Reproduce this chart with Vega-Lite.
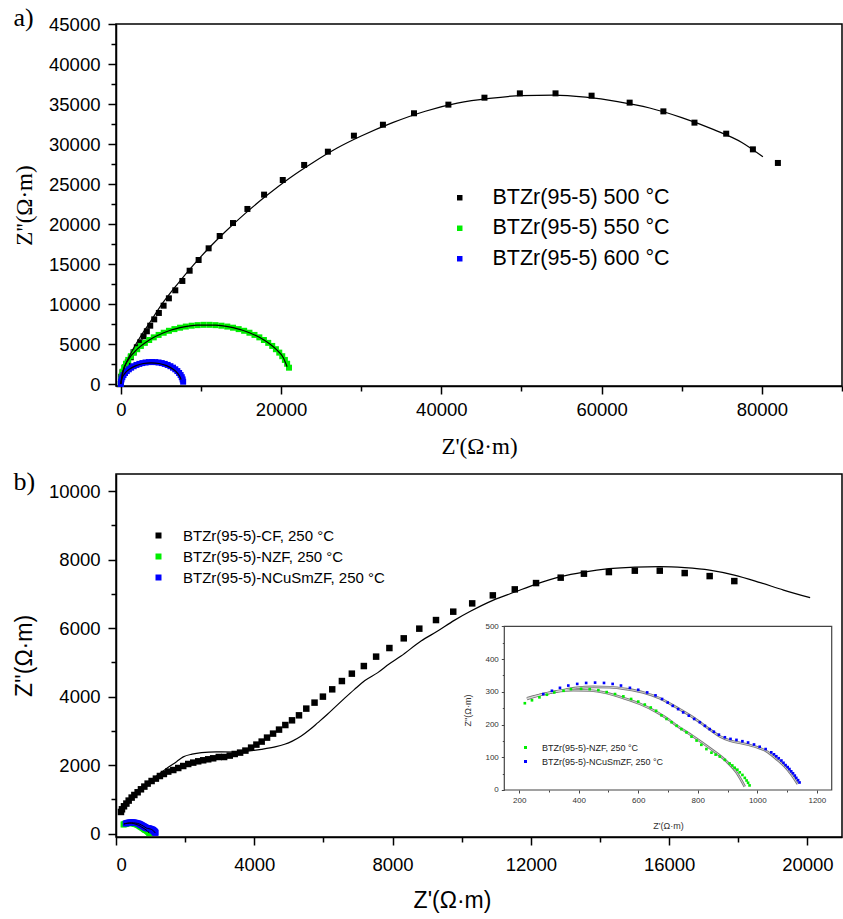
{
  "$schema": "https://vega.github.io/schema/vega-lite/v6.json",
  "background": "white",
  "padding": {"left": 12, "top": 4, "right": 0, "bottom": 0},
  "spacing": 8,
  "config": {
    "view": {"stroke": "#000", "strokeWidth": 1.5},
    "axis": {"grid": false, "domainColor": "#000", "domainWidth": 1.5, "tickColor": "#000", "tickWidth": 1.5, "labelFont": "Liberation Sans", "labelColor": "#000", "titleColor": "#000", "titleFontWeight": "normal", "labelFontSize": 18.5, "titleFont": "Liberation Sans"},
    "legend": {"labelFont": "Liberation Sans", "labelColor": "#000", "padding": 0, "symbolStrokeWidth": 0, "labelLimit": 600},
    "title": {"color": "#000"}
  },
  "datasets": {
    "a": [
      {"s": "BTZr(95-5) 500 °C", "x": 50, "y": 880}, {"s": "BTZr(95-5) 500 °C", "x": 210, "y": 1460}, {"s": "BTZr(95-5) 500 °C", "x": 550, "y": 2090}, {"s": "BTZr(95-5) 500 °C", "x": 870, "y": 2710}, {"s": "BTZr(95-5) 500 °C", "x": 1250, "y": 3340}, {"s": "BTZr(95-5) 500 °C", "x": 1590, "y": 3960}, {"s": "BTZr(95-5) 500 °C", "x": 2000, "y": 4590}, {"s": "BTZr(95-5) 500 °C", "x": 2420, "y": 5210}, {"s": "BTZr(95-5) 500 °C", "x": 2840, "y": 5960}, {"s": "BTZr(95-5) 500 °C", "x": 3250, "y": 6590}, {"s": "BTZr(95-5) 500 °C", "x": 3670, "y": 7290}, {"s": "BTZr(95-5) 500 °C", "x": 4170, "y": 8080}, {"s": "BTZr(95-5) 500 °C", "x": 4750, "y": 8880}, {"s": "BTZr(95-5) 500 °C", "x": 5340, "y": 9790}, {"s": "BTZr(95-5) 500 °C", "x": 6000, "y": 10710}, {"s": "BTZr(95-5) 500 °C", "x": 6800, "y": 11710}, {"s": "BTZr(95-5) 500 °C", "x": 7680, "y": 12880}, {"s": "BTZr(95-5) 500 °C", "x": 8590, "y": 14160}, {"s": "BTZr(95-5) 500 °C", "x": 9710, "y": 15500}, {"s": "BTZr(95-5) 500 °C", "x": 10960, "y": 16960}, {"s": "BTZr(95-5) 500 °C", "x": 12340, "y": 18500}, {"s": "BTZr(95-5) 500 °C", "x": 14000, "y": 20120}, {"s": "BTZr(95-5) 500 °C", "x": 15800, "y": 21880}, {"s": "BTZr(95-5) 500 °C", "x": 17880, "y": 23670}, {"s": "BTZr(95-5) 500 °C", "x": 20210, "y": 25500}, {"s": "BTZr(95-5) 500 °C", "x": 22880, "y": 27380}, {"s": "BTZr(95-5) 500 °C", "x": 25840, "y": 29040}, {"s": "BTZr(95-5) 500 °C", "x": 29090, "y": 31040}, {"s": "BTZr(95-5) 500 °C", "x": 32710, "y": 32410}, {"s": "BTZr(95-5) 500 °C", "x": 36590, "y": 33840}, {"s": "BTZr(95-5) 500 °C", "x": 40880, "y": 34920}, {"s": "BTZr(95-5) 500 °C", "x": 45380, "y": 35790}, {"s": "BTZr(95-5) 500 °C", "x": 49800, "y": 36330}, {"s": "BTZr(95-5) 500 °C", "x": 54250, "y": 36330}, {"s": "BTZr(95-5) 500 °C", "x": 58750, "y": 36040}, {"s": "BTZr(95-5) 500 °C", "x": 63500, "y": 35170}, {"s": "BTZr(95-5) 500 °C", "x": 67710, "y": 34080}, {"s": "BTZr(95-5) 500 °C", "x": 71590, "y": 32670}, {"s": "BTZr(95-5) 500 °C", "x": 75550, "y": 31290}, {"s": "BTZr(95-5) 500 °C", "x": 78880, "y": 29330}, {"s": "BTZr(95-5) 500 °C", "x": 82000, "y": 27630},
      {"s": "BTZr(95-5) 550 °C", "x": 0, "y": 0}, {"s": "BTZr(95-5) 550 °C", "x": 26, "y": 516}, {"s": "BTZr(95-5) 550 °C", "x": 104, "y": 1030}, {"s": "BTZr(95-5) 550 °C", "x": 234, "y": 1539}, {"s": "BTZr(95-5) 550 °C", "x": 414, "y": 2040}, {"s": "BTZr(95-5) 550 °C", "x": 645, "y": 2531}, {"s": "BTZr(95-5) 550 °C", "x": 926, "y": 3010}, {"s": "BTZr(95-5) 550 °C", "x": 1253, "y": 3474}, {"s": "BTZr(95-5) 550 °C", "x": 1626, "y": 3921}, {"s": "BTZr(95-5) 550 °C", "x": 2044, "y": 4350}, {"s": "BTZr(95-5) 550 °C", "x": 2504, "y": 4757}, {"s": "BTZr(95-5) 550 °C", "x": 3003, "y": 5141}, {"s": "BTZr(95-5) 550 °C", "x": 3541, "y": 5499}, {"s": "BTZr(95-5) 550 °C", "x": 4112, "y": 5831}, {"s": "BTZr(95-5) 550 °C", "x": 4717, "y": 6135}, {"s": "BTZr(95-5) 550 °C", "x": 5350, "y": 6408}, {"s": "BTZr(95-5) 550 °C", "x": 6009, "y": 6651}, {"s": "BTZr(95-5) 550 °C", "x": 6692, "y": 6861}, {"s": "BTZr(95-5) 550 °C", "x": 7394, "y": 7038}, {"s": "BTZr(95-5) 550 °C", "x": 8112, "y": 7180}, {"s": "BTZr(95-5) 550 °C", "x": 8842, "y": 7288}, {"s": "BTZr(95-5) 550 °C", "x": 9582, "y": 7359}, {"s": "BTZr(95-5) 550 °C", "x": 10327, "y": 7396}, {"s": "BTZr(95-5) 550 °C", "x": 11073, "y": 7396}, {"s": "BTZr(95-5) 550 °C", "x": 11818, "y": 7359}, {"s": "BTZr(95-5) 550 °C", "x": 12558, "y": 7288}, {"s": "BTZr(95-5) 550 °C", "x": 13288, "y": 7180}, {"s": "BTZr(95-5) 550 °C", "x": 14006, "y": 7038}, {"s": "BTZr(95-5) 550 °C", "x": 14708, "y": 6861}, {"s": "BTZr(95-5) 550 °C", "x": 15391, "y": 6651}, {"s": "BTZr(95-5) 550 °C", "x": 16050, "y": 6408}, {"s": "BTZr(95-5) 550 °C", "x": 16683, "y": 6135}, {"s": "BTZr(95-5) 550 °C", "x": 17288, "y": 5831}, {"s": "BTZr(95-5) 550 °C", "x": 17859, "y": 5499}, {"s": "BTZr(95-5) 550 °C", "x": 18397, "y": 5141}, {"s": "BTZr(95-5) 550 °C", "x": 18896, "y": 4757}, {"s": "BTZr(95-5) 550 °C", "x": 19356, "y": 4350}, {"s": "BTZr(95-5) 550 °C", "x": 19774, "y": 3921}, {"s": "BTZr(95-5) 550 °C", "x": 20147, "y": 3474}, {"s": "BTZr(95-5) 550 °C", "x": 20474, "y": 3010}, {"s": "BTZr(95-5) 550 °C", "x": 20755, "y": 2531}, {"s": "BTZr(95-5) 550 °C", "x": 20986, "y": 2040},
      {"s": "BTZr(95-5) 600 °C", "x": 0, "y": 0}, {"s": "BTZr(95-5) 600 °C", "x": 21, "y": 287}, {"s": "BTZr(95-5) 600 °C", "x": 85, "y": 572}, {"s": "BTZr(95-5) 600 °C", "x": 191, "y": 850}, {"s": "BTZr(95-5) 600 °C", "x": 337, "y": 1118}, {"s": "BTZr(95-5) 600 °C", "x": 523, "y": 1375}, {"s": "BTZr(95-5) 600 °C", "x": 745, "y": 1616}, {"s": "BTZr(95-5) 600 °C", "x": 1002, "y": 1840}, {"s": "BTZr(95-5) 600 °C", "x": 1290, "y": 2044}, {"s": "BTZr(95-5) 600 °C", "x": 1608, "y": 2225}, {"s": "BTZr(95-5) 600 °C", "x": 1950, "y": 2382}, {"s": "BTZr(95-5) 600 °C", "x": 2314, "y": 2512}, {"s": "BTZr(95-5) 600 °C", "x": 2695, "y": 2616}, {"s": "BTZr(95-5) 600 °C", "x": 3089, "y": 2690}, {"s": "BTZr(95-5) 600 °C", "x": 3492, "y": 2735}, {"s": "BTZr(95-5) 600 °C", "x": 3900, "y": 2750}, {"s": "BTZr(95-5) 600 °C", "x": 4308, "y": 2735}, {"s": "BTZr(95-5) 600 °C", "x": 4711, "y": 2690}, {"s": "BTZr(95-5) 600 °C", "x": 5105, "y": 2616}, {"s": "BTZr(95-5) 600 °C", "x": 5486, "y": 2512}, {"s": "BTZr(95-5) 600 °C", "x": 5850, "y": 2382}, {"s": "BTZr(95-5) 600 °C", "x": 6192, "y": 2225}, {"s": "BTZr(95-5) 600 °C", "x": 6510, "y": 2044}, {"s": "BTZr(95-5) 600 °C", "x": 6798, "y": 1840}, {"s": "BTZr(95-5) 600 °C", "x": 7055, "y": 1616}, {"s": "BTZr(95-5) 600 °C", "x": 7277, "y": 1375}, {"s": "BTZr(95-5) 600 °C", "x": 7463, "y": 1118}, {"s": "BTZr(95-5) 600 °C", "x": 7609, "y": 850}, {"s": "BTZr(95-5) 600 °C", "x": 7715, "y": 572}, {"s": "BTZr(95-5) 600 °C", "x": 7779, "y": 287}
    ],
    "fitA": [
      {"s": "500", "x": 0, "y": 0}, {"s": "500", "x": 300, "y": 1600}, {"s": "500", "x": 800, "y": 2900}, {"s": "500", "x": 1500, "y": 4300}, {"s": "500", "x": 2500, "y": 6000}, {"s": "500", "x": 3500, "y": 7500}, {"s": "500", "x": 5000, "y": 9800}, {"s": "500", "x": 7000, "y": 12400}, {"s": "500", "x": 9000, "y": 14800}, {"s": "500", "x": 11000, "y": 17000}, {"s": "500", "x": 13000, "y": 19000}, {"s": "500", "x": 15500, "y": 21300}, {"s": "500", "x": 18000, "y": 23400}, {"s": "500", "x": 21000, "y": 25700}, {"s": "500", "x": 24000, "y": 27700}, {"s": "500", "x": 27000, "y": 29500}, {"s": "500", "x": 30000, "y": 31000}, {"s": "500", "x": 34000, "y": 32700}, {"s": "500", "x": 38000, "y": 34100}, {"s": "500", "x": 42000, "y": 35100}, {"s": "500", "x": 46000, "y": 35700}, {"s": "500", "x": 50000, "y": 36050}, {"s": "500", "x": 54000, "y": 36100}, {"s": "500", "x": 58000, "y": 35850}, {"s": "500", "x": 62000, "y": 35300}, {"s": "500", "x": 66000, "y": 34500}, {"s": "500", "x": 70000, "y": 33300}, {"s": "500", "x": 74000, "y": 31800}, {"s": "500", "x": 77500, "y": 30200}, {"s": "500", "x": 80130, "y": 28400},
      {"s": "550", "x": 0, "y": 0}, {"s": "550", "x": 234, "y": 1539}, {"s": "550", "x": 926, "y": 3010}, {"s": "550", "x": 2044, "y": 4350}, {"s": "550", "x": 3541, "y": 5499}, {"s": "550", "x": 5350, "y": 6408}, {"s": "550", "x": 7394, "y": 7038}, {"s": "550", "x": 9582, "y": 7359}, {"s": "550", "x": 11818, "y": 7359}, {"s": "550", "x": 14006, "y": 7038}, {"s": "550", "x": 16050, "y": 6408}, {"s": "550", "x": 17859, "y": 5499}, {"s": "550", "x": 19356, "y": 4350}, {"s": "550", "x": 20300, "y": 3250}, {"s": "550", "x": 20750, "y": 2150},
      {"s": "600", "x": 0, "y": 0}, {"s": "600", "x": 130, "y": 686}, {"s": "600", "x": 509, "y": 1325}, {"s": "600", "x": 1113, "y": 1874}, {"s": "600", "x": 1900, "y": 2295}, {"s": "600", "x": 2817, "y": 2560}, {"s": "600", "x": 3800, "y": 2650}, {"s": "600", "x": 4783, "y": 2560}, {"s": "600", "x": 5700, "y": 2295}, {"s": "600", "x": 6487, "y": 1874}, {"s": "600", "x": 7091, "y": 1325}, {"s": "600", "x": 7470, "y": 686}, {"s": "600", "x": 7517, "y": 551}
    ],
    "bCF": [
      {"s": "BTZr(95-5)-CF, 250 °C", "x": 144, "y": 631}, {"s": "BTZr(95-5)-CF, 250 °C", "x": 173, "y": 709}, {"s": "BTZr(95-5)-CF, 250 °C", "x": 231, "y": 797}, {"s": "BTZr(95-5)-CF, 250 °C", "x": 300, "y": 876}, {"s": "BTZr(95-5)-CF, 250 °C", "x": 367, "y": 963}, {"s": "BTZr(95-5)-CF, 250 °C", "x": 453, "y": 1051}, {"s": "BTZr(95-5)-CF, 250 °C", "x": 531, "y": 1127}, {"s": "BTZr(95-5)-CF, 250 °C", "x": 626, "y": 1206}, {"s": "BTZr(95-5)-CF, 250 °C", "x": 722, "y": 1293}, {"s": "BTZr(95-5)-CF, 250 °C", "x": 820, "y": 1372}, {"s": "BTZr(95-5)-CF, 250 °C", "x": 915, "y": 1459}, {"s": "BTZr(95-5)-CF, 250 °C", "x": 1030, "y": 1535}, {"s": "BTZr(95-5)-CF, 250 °C", "x": 1154, "y": 1605}, {"s": "BTZr(95-5)-CF, 250 °C", "x": 1270, "y": 1681}, {"s": "BTZr(95-5)-CF, 250 °C", "x": 1385, "y": 1740}, {"s": "BTZr(95-5)-CF, 250 °C", "x": 1512, "y": 1810}, {"s": "BTZr(95-5)-CF, 250 °C", "x": 1657, "y": 1856}, {"s": "BTZr(95-5)-CF, 250 °C", "x": 1801, "y": 1915}, {"s": "BTZr(95-5)-CF, 250 °C", "x": 1945, "y": 1973}, {"s": "BTZr(95-5)-CF, 250 °C", "x": 2089, "y": 2032}, {"s": "BTZr(95-5)-CF, 250 °C", "x": 2234, "y": 2072}, {"s": "BTZr(95-5)-CF, 250 °C", "x": 2378, "y": 2110}, {"s": "BTZr(95-5)-CF, 250 °C", "x": 2522, "y": 2140}, {"s": "BTZr(95-5)-CF, 250 °C", "x": 2667, "y": 2169}, {"s": "BTZr(95-5)-CF, 250 °C", "x": 2811, "y": 2198}, {"s": "BTZr(95-5)-CF, 250 °C", "x": 2973, "y": 2236}, {"s": "BTZr(95-5)-CF, 250 °C", "x": 3128, "y": 2236}, {"s": "BTZr(95-5)-CF, 250 °C", "x": 3290, "y": 2277}, {"s": "BTZr(95-5)-CF, 250 °C", "x": 3434, "y": 2324}, {"s": "BTZr(95-5)-CF, 250 °C", "x": 3590, "y": 2364}, {"s": "BTZr(95-5)-CF, 250 °C", "x": 3743, "y": 2423}, {"s": "BTZr(95-5)-CF, 250 °C", "x": 3908, "y": 2510}, {"s": "BTZr(95-5)-CF, 250 °C", "x": 4061, "y": 2598}, {"s": "BTZr(95-5)-CF, 250 °C", "x": 4214, "y": 2686}, {"s": "BTZr(95-5)-CF, 250 °C", "x": 4369, "y": 2802}, {"s": "BTZr(95-5)-CF, 250 °C", "x": 4543, "y": 2919}, {"s": "BTZr(95-5)-CF, 250 °C", "x": 4716, "y": 3036}, {"s": "BTZr(95-5)-CF, 250 °C", "x": 4898, "y": 3170}, {"s": "BTZr(95-5)-CF, 250 °C", "x": 5091, "y": 3307}, {"s": "BTZr(95-5)-CF, 250 °C", "x": 5293, "y": 3453}, {"s": "BTZr(95-5)-CF, 250 °C", "x": 5504, "y": 3649}, {"s": "BTZr(95-5)-CF, 250 °C", "x": 5743, "y": 3824}, {"s": "BTZr(95-5)-CF, 250 °C", "x": 5985, "y": 3999}, {"s": "BTZr(95-5)-CF, 250 °C", "x": 6254, "y": 4212}, {"s": "BTZr(95-5)-CF, 250 °C", "x": 6534, "y": 4454}, {"s": "BTZr(95-5)-CF, 250 °C", "x": 6822, "y": 4670}, {"s": "BTZr(95-5)-CF, 250 °C", "x": 7169, "y": 4892}, {"s": "BTZr(95-5)-CF, 250 °C", "x": 7524, "y": 5167}, {"s": "BTZr(95-5)-CF, 250 °C", "x": 7908, "y": 5418}, {"s": "BTZr(95-5)-CF, 250 °C", "x": 8323, "y": 5701}, {"s": "BTZr(95-5)-CF, 250 °C", "x": 8773, "y": 5984}, {"s": "BTZr(95-5)-CF, 250 °C", "x": 9256, "y": 6235}, {"s": "BTZr(95-5)-CF, 250 °C", "x": 9755, "y": 6480}, {"s": "BTZr(95-5)-CF, 250 °C", "x": 10303, "y": 6722}, {"s": "BTZr(95-5)-CF, 250 °C", "x": 10900, "y": 6956}, {"s": "BTZr(95-5)-CF, 250 °C", "x": 11535, "y": 7131}, {"s": "BTZr(95-5)-CF, 250 °C", "x": 12150, "y": 7315}, {"s": "BTZr(95-5)-CF, 250 °C", "x": 12863, "y": 7473}, {"s": "BTZr(95-5)-CF, 250 °C", "x": 13535, "y": 7589}, {"s": "BTZr(95-5)-CF, 250 °C", "x": 14257, "y": 7636}, {"s": "BTZr(95-5)-CF, 250 °C", "x": 15007, "y": 7677}, {"s": "BTZr(95-5)-CF, 250 °C", "x": 15729, "y": 7677}, {"s": "BTZr(95-5)-CF, 250 °C", "x": 16450, "y": 7607}, {"s": "BTZr(95-5)-CF, 250 °C", "x": 17172, "y": 7519}, {"s": "BTZr(95-5)-CF, 250 °C", "x": 17885, "y": 7373}
    ],
    "fitB": [
      {"x": 170, "y": 650}, {"x": 500, "y": 1080}, {"x": 850, "y": 1420}, {"x": 1175, "y": 1682}, {"x": 1500, "y": 1930}, {"x": 1752, "y": 2100}, {"x": 1945, "y": 2240}, {"x": 2200, "y": 2320}, {"x": 2473, "y": 2364}, {"x": 2900, "y": 2385}, {"x": 3434, "y": 2382}, {"x": 3800, "y": 2410}, {"x": 4205, "y": 2461}, {"x": 4600, "y": 2530}, {"x": 4878, "y": 2607}, {"x": 5100, "y": 2700}, {"x": 5359, "y": 2849}, {"x": 5600, "y": 3030}, {"x": 5841, "y": 3240}, {"x": 6100, "y": 3470}, {"x": 6321, "y": 3678}, {"x": 6600, "y": 3940}, {"x": 6898, "y": 4212}, {"x": 7200, "y": 4470}, {"x": 7573, "y": 4700}, {"x": 7900, "y": 4950}, {"x": 8245, "y": 5184}, {"x": 8823, "y": 5622}, {"x": 9304, "y": 5914}, {"x": 9784, "y": 6226}, {"x": 10265, "y": 6498}, {"x": 10900, "y": 6810}, {"x": 11535, "y": 7053}, {"x": 12150, "y": 7286}, {"x": 12863, "y": 7502}, {"x": 13535, "y": 7636}, {"x": 14257, "y": 7735}, {"x": 15007, "y": 7782}, {"x": 15729, "y": 7794}, {"x": 16450, "y": 7765}, {"x": 17172, "y": 7694}, {"x": 17885, "y": 7548}, {"x": 18635, "y": 7327}, {"x": 19308, "y": 7111}, {"x": 20078, "y": 6888}
    ],
    "inset": [
      {"s": "BTZr(95-5)-NZF, 250 °C", "x": 219, "y": 265}, {"s": "BTZr(95-5)-NZF, 250 °C", "x": 243, "y": 274}, {"s": "BTZr(95-5)-NZF, 250 °C", "x": 268, "y": 283}, {"s": "BTZr(95-5)-NZF, 250 °C", "x": 293, "y": 291}, {"s": "BTZr(95-5)-NZF, 250 °C", "x": 318, "y": 298}, {"s": "BTZr(95-5)-NZF, 250 °C", "x": 349, "y": 303}, {"s": "BTZr(95-5)-NZF, 250 °C", "x": 374, "y": 308}, {"s": "BTZr(95-5)-NZF, 250 °C", "x": 408, "y": 309}, {"s": "BTZr(95-5)-NZF, 250 °C", "x": 437, "y": 308}, {"s": "BTZr(95-5)-NZF, 250 °C", "x": 466, "y": 305}, {"s": "BTZr(95-5)-NZF, 250 °C", "x": 494, "y": 299}, {"s": "BTZr(95-5)-NZF, 250 °C", "x": 522, "y": 293}, {"s": "BTZr(95-5)-NZF, 250 °C", "x": 550, "y": 286}, {"s": "BTZr(95-5)-NZF, 250 °C", "x": 576, "y": 278}, {"s": "BTZr(95-5)-NZF, 250 °C", "x": 600, "y": 270}, {"s": "BTZr(95-5)-NZF, 250 °C", "x": 622, "y": 261}, {"s": "BTZr(95-5)-NZF, 250 °C", "x": 642, "y": 252}, {"s": "BTZr(95-5)-NZF, 250 °C", "x": 660, "y": 242}, {"s": "BTZr(95-5)-NZF, 250 °C", "x": 678, "y": 228}, {"s": "BTZr(95-5)-NZF, 250 °C", "x": 695, "y": 217}, {"s": "BTZr(95-5)-NZF, 250 °C", "x": 712, "y": 207}, {"s": "BTZr(95-5)-NZF, 250 °C", "x": 729, "y": 196}, {"s": "BTZr(95-5)-NZF, 250 °C", "x": 745, "y": 186}, {"s": "BTZr(95-5)-NZF, 250 °C", "x": 762, "y": 176}, {"s": "BTZr(95-5)-NZF, 250 °C", "x": 779, "y": 163}, {"s": "BTZr(95-5)-NZF, 250 °C", "x": 796, "y": 151}, {"s": "BTZr(95-5)-NZF, 250 °C", "x": 812, "y": 138}, {"s": "BTZr(95-5)-NZF, 250 °C", "x": 829, "y": 125}, {"s": "BTZr(95-5)-NZF, 250 °C", "x": 846, "y": 114}, {"s": "BTZr(95-5)-NZF, 250 °C", "x": 860, "y": 108}, {"s": "BTZr(95-5)-NZF, 250 °C", "x": 874, "y": 102}, {"s": "BTZr(95-5)-NZF, 250 °C", "x": 891, "y": 92}, {"s": "BTZr(95-5)-NZF, 250 °C", "x": 907, "y": 81}, {"s": "BTZr(95-5)-NZF, 250 °C", "x": 916, "y": 75}, {"s": "BTZr(95-5)-NZF, 250 °C", "x": 924, "y": 68}, {"s": "BTZr(95-5)-NZF, 250 °C", "x": 933, "y": 62}, {"s": "BTZr(95-5)-NZF, 250 °C", "x": 941, "y": 54}, {"s": "BTZr(95-5)-NZF, 250 °C", "x": 950, "y": 46}, {"s": "BTZr(95-5)-NZF, 250 °C", "x": 958, "y": 37}, {"s": "BTZr(95-5)-NZF, 250 °C", "x": 964, "y": 29}, {"s": "BTZr(95-5)-NZF, 250 °C", "x": 969, "y": 22}, {"s": "BTZr(95-5)-NZF, 250 °C", "x": 974, "y": 14},
      {"s": "BTZr(95-5)-NCuSmZF, 250 °C", "x": 281, "y": 293}, {"s": "BTZr(95-5)-NCuSmZF, 250 °C", "x": 310, "y": 303}, {"s": "BTZr(95-5)-NCuSmZF, 250 °C", "x": 337, "y": 312}, {"s": "BTZr(95-5)-NCuSmZF, 250 °C", "x": 365, "y": 319}, {"s": "BTZr(95-5)-NCuSmZF, 250 °C", "x": 395, "y": 324}, {"s": "BTZr(95-5)-NCuSmZF, 250 °C", "x": 425, "y": 327}, {"s": "BTZr(95-5)-NCuSmZF, 250 °C", "x": 455, "y": 328}, {"s": "BTZr(95-5)-NCuSmZF, 250 °C", "x": 485, "y": 327}, {"s": "BTZr(95-5)-NCuSmZF, 250 °C", "x": 514, "y": 324}, {"s": "BTZr(95-5)-NCuSmZF, 250 °C", "x": 542, "y": 319}, {"s": "BTZr(95-5)-NCuSmZF, 250 °C", "x": 572, "y": 312}, {"s": "BTZr(95-5)-NCuSmZF, 250 °C", "x": 600, "y": 306}, {"s": "BTZr(95-5)-NCuSmZF, 250 °C", "x": 630, "y": 298}, {"s": "BTZr(95-5)-NCuSmZF, 250 °C", "x": 658, "y": 289}, {"s": "BTZr(95-5)-NCuSmZF, 250 °C", "x": 680, "y": 278}, {"s": "BTZr(95-5)-NCuSmZF, 250 °C", "x": 699, "y": 267}, {"s": "BTZr(95-5)-NCuSmZF, 250 °C", "x": 716, "y": 257}, {"s": "BTZr(95-5)-NCuSmZF, 250 °C", "x": 734, "y": 247}, {"s": "BTZr(95-5)-NCuSmZF, 250 °C", "x": 751, "y": 237}, {"s": "BTZr(95-5)-NCuSmZF, 250 °C", "x": 770, "y": 227}, {"s": "BTZr(95-5)-NCuSmZF, 250 °C", "x": 788, "y": 217}, {"s": "BTZr(95-5)-NCuSmZF, 250 °C", "x": 807, "y": 207}, {"s": "BTZr(95-5)-NCuSmZF, 250 °C", "x": 824, "y": 196}, {"s": "BTZr(95-5)-NCuSmZF, 250 °C", "x": 840, "y": 186}, {"s": "BTZr(95-5)-NCuSmZF, 250 °C", "x": 854, "y": 178}, {"s": "BTZr(95-5)-NCuSmZF, 250 °C", "x": 871, "y": 169}, {"s": "BTZr(95-5)-NCuSmZF, 250 °C", "x": 891, "y": 161}, {"s": "BTZr(95-5)-NCuSmZF, 250 °C", "x": 910, "y": 156}, {"s": "BTZr(95-5)-NCuSmZF, 250 °C", "x": 930, "y": 153}, {"s": "BTZr(95-5)-NCuSmZF, 250 °C", "x": 950, "y": 149}, {"s": "BTZr(95-5)-NCuSmZF, 250 °C", "x": 969, "y": 145}, {"s": "BTZr(95-5)-NCuSmZF, 250 °C", "x": 989, "y": 139}, {"s": "BTZr(95-5)-NCuSmZF, 250 °C", "x": 1008, "y": 132}, {"s": "BTZr(95-5)-NCuSmZF, 250 °C", "x": 1028, "y": 125}, {"s": "BTZr(95-5)-NCuSmZF, 250 °C", "x": 1047, "y": 115}, {"s": "BTZr(95-5)-NCuSmZF, 250 °C", "x": 1056, "y": 109}, {"s": "BTZr(95-5)-NCuSmZF, 250 °C", "x": 1064, "y": 103}, {"s": "BTZr(95-5)-NCuSmZF, 250 °C", "x": 1072, "y": 97}, {"s": "BTZr(95-5)-NCuSmZF, 250 °C", "x": 1081, "y": 90}, {"s": "BTZr(95-5)-NCuSmZF, 250 °C", "x": 1088, "y": 83}, {"s": "BTZr(95-5)-NCuSmZF, 250 °C", "x": 1095, "y": 76}, {"s": "BTZr(95-5)-NCuSmZF, 250 °C", "x": 1102, "y": 70}, {"s": "BTZr(95-5)-NCuSmZF, 250 °C", "x": 1108, "y": 64}, {"s": "BTZr(95-5)-NCuSmZF, 250 °C", "x": 1114, "y": 57}, {"s": "BTZr(95-5)-NCuSmZF, 250 °C", "x": 1120, "y": 51}, {"s": "BTZr(95-5)-NCuSmZF, 250 °C", "x": 1126, "y": 44}, {"s": "BTZr(95-5)-NCuSmZF, 250 °C", "x": 1131, "y": 37}, {"s": "BTZr(95-5)-NCuSmZF, 250 °C", "x": 1137, "y": 30}, {"s": "BTZr(95-5)-NCuSmZF, 250 °C", "x": 1142, "y": 23}
    ],
    "fitIn": [
      {"s": "NZF", "x": 226, "y": 278}, {"s": "NZF", "x": 270, "y": 290}, {"s": "NZF", "x": 326, "y": 301}, {"s": "NZF", "x": 382, "y": 305}, {"s": "NZF", "x": 438, "y": 304}, {"s": "NZF", "x": 494, "y": 296}, {"s": "NZF", "x": 550, "y": 281}, {"s": "NZF", "x": 606, "y": 263}, {"s": "NZF", "x": 662, "y": 238}, {"s": "NZF", "x": 701, "y": 216}, {"s": "NZF", "x": 729, "y": 197}, {"s": "NZF", "x": 784, "y": 164}, {"s": "NZF", "x": 840, "y": 128}, {"s": "NZF", "x": 896, "y": 88}, {"s": "NZF", "x": 930, "y": 54}, {"s": "NZF", "x": 958, "y": 10},
      {"s": "NCuSmZF", "x": 226, "y": 280}, {"s": "NCuSmZF", "x": 281, "y": 293}, {"s": "NCuSmZF", "x": 337, "y": 303}, {"s": "NCuSmZF", "x": 393, "y": 312}, {"s": "NCuSmZF", "x": 449, "y": 315}, {"s": "NCuSmZF", "x": 505, "y": 314}, {"s": "NCuSmZF", "x": 561, "y": 308}, {"s": "NCuSmZF", "x": 617, "y": 298}, {"s": "NCuSmZF", "x": 673, "y": 280}, {"s": "NCuSmZF", "x": 729, "y": 252}, {"s": "NCuSmZF", "x": 784, "y": 222}, {"s": "NCuSmZF", "x": 840, "y": 185}, {"s": "NCuSmZF", "x": 874, "y": 164}, {"s": "NCuSmZF", "x": 907, "y": 151}, {"s": "NCuSmZF", "x": 952, "y": 142}, {"s": "NCuSmZF", "x": 997, "y": 131}, {"s": "NCuSmZF", "x": 1030, "y": 119}, {"s": "NCuSmZF", "x": 1064, "y": 95}, {"s": "NCuSmZF", "x": 1092, "y": 72}, {"s": "NCuSmZF", "x": 1114, "y": 48}, {"s": "NCuSmZF", "x": 1136, "y": 18}
    ]
  },
  "vconcat": [
    {
      "width": 726,
      "height": 362,
      "title": {"text": "a)", "anchor": "start", "frame": "bounds", "font": "Liberation Serif", "fontSize": 26, "fontWeight": "normal", "baseline": "alphabetic", "offset": 0, "dy": 37},
      "layer": [
        {
          "data": {"name": "a"},
          "mark": {"type": "square", "filled": true, "size": 36, "opacity": 1},
          "encoding": {
            "x": {"field": "x", "type": "quantitative", "scale": {"domain": [-600, 90000], "nice": false, "zero": false},
              "axis": {"orient": "bottom", "values": [0, 20000, 40000, 60000, 80000], "format": "d", "title": "Z'(Ω·m)", "titleFont": "Liberation Serif", "titleFontSize": 23, "titlePadding": 17, "tickSize": 8, "labelPadding": 6}},
            "y": {"field": "y", "type": "quantitative", "scale": {"domain": [-250, 45000], "nice": false, "zero": false},
              "axis": {"orient": "left", "values": [0, 5000, 10000, 15000, 20000, 25000, 30000, 35000, 40000, 45000], "format": "d", "title": "Z''(Ω·m)", "titleFont": "Liberation Serif", "titleFontSize": 23, "titlePadding": 12, "tickSize": 8, "labelPadding": 8}},
            "color": {"field": "s", "type": "nominal", "sort": null,
              "scale": {"domain": ["BTZr(95-5) 500 °C", "BTZr(95-5) 550 °C", "BTZr(95-5) 600 °C"], "range": ["#000000", "#00ee00", "#0000ff"]},
              "legend": {"orient": "none", "legendX": 333, "legendY": 163, "title": null, "symbolType": "square", "symbolSize": 30, "labelFontSize": 21.5, "labelOffset": 22, "rowPadding": 7.5}}
          }
        },
        {
          "data": {"name": "fitA"},
          "mark": {"type": "line", "color": "#000", "strokeWidth": 1.2, "interpolate": "monotone"},
          "encoding": {
            "x": {"field": "x", "type": "quantitative", "scale": {"domain": [-600, 90000], "nice": false, "zero": false},
              "axis": {"orient": "bottom", "values": [10000, 30000, 50000, 70000, 90000], "labels": false, "title": null, "tickSize": 5, "domain": false}},
            "y": {"field": "y", "type": "quantitative", "scale": {"domain": [-250, 45000], "nice": false, "zero": false},
              "axis": {"orient": "left", "values": [2500, 7500, 12500, 17500, 22500, 27500, 32500, 37500, 42500], "labels": false, "title": null, "tickSize": 5, "domain": false}},
            "detail": {"field": "s", "type": "nominal"}
          }
        }
      ],
      "resolve": {"axis": {"x": "independent", "y": "independent"}}
    },
    {
      "width": 726,
      "height": 363,
      "title": {"text": "b)", "anchor": "start", "frame": "bounds", "font": "Liberation Serif", "fontSize": 26, "fontWeight": "normal", "baseline": "alphabetic", "offset": 0, "dy": 42},
      "layer": [
        {
          "layer": [
            {
              "data": {"name": "bCF"},
              "mark": {"type": "square", "filled": true, "size": 42, "opacity": 1},
              "encoding": {
                "x": {"field": "x", "type": "quantitative", "scale": {"domain": [0, 21000], "nice": false, "zero": false},
                  "axis": {"orient": "bottom", "values": [0, 4000, 8000, 12000, 16000, 20000], "format": "d", "title": "Z'(Ω·m)", "titleFontSize": 23, "titlePadding": 16, "tickSize": 8, "labelPadding": 10, "titleX": 336}},
                "y": {"field": "y", "type": "quantitative", "scale": {"domain": [-100, 10500], "nice": false, "zero": false},
                  "axis": {"orient": "left", "values": [0, 2000, 4000, 6000, 8000, 10000], "format": "d", "title": "Z''(Ω·m)", "titleFontSize": 23, "titlePadding": 12, "tickSize": 8, "labelPadding": 8}},
                "color": {"field": "s", "type": "nominal",
                  "scale": {"domain": ["BTZr(95-5)-CF, 250 °C", "BTZr(95-5)-NZF, 250 °C", "BTZr(95-5)-NCuSmZF, 250 °C"], "range": ["#000000", "#00ee00", "#0000ff"]},
                  "legend": {"orient": "none", "legendX": 35, "legendY": 54, "title": null, "symbolType": "square", "symbolSize": 36, "labelFontSize": 15, "labelOffset": 17, "rowPadding": 5}}
              }
            },
            {
              "data": {"name": "inset"},
              "mark": {"type": "square", "filled": true, "size": 36, "opacity": 1},
              "encoding": {
                "x": {"field": "x", "type": "quantitative", "scale": {"domain": [0, 21000], "nice": false, "zero": false}, "axis": null},
                "y": {"field": "y", "type": "quantitative", "scale": {"domain": [-100, 10500], "nice": false, "zero": false}, "axis": null},
                "color": {"field": "s", "type": "nominal"}
              }
            },
            {
              "data": {"name": "fitIn"},
              "mark": {"type": "line", "color": "#000", "strokeWidth": 1, "interpolate": "monotone"},
              "encoding": {
                "x": {"field": "x", "type": "quantitative", "scale": {"domain": [0, 21000], "nice": false, "zero": false}, "axis": null},
                "y": {"field": "y", "type": "quantitative", "scale": {"domain": [-100, 10500], "nice": false, "zero": false}, "axis": null},
                "detail": {"field": "s", "type": "nominal"}
              }
            },
            {
              "data": {"name": "fitB"},
              "mark": {"type": "line", "color": "#000", "strokeWidth": 1.2, "interpolate": "monotone"},
              "encoding": {
                "x": {"field": "x", "type": "quantitative", "scale": {"domain": [0, 21000], "nice": false, "zero": false},
                  "axis": {"orient": "bottom", "values": [2000, 6000, 10000, 14000, 18000], "labels": false, "title": null, "tickSize": 5, "domain": false}},
                "y": {"field": "y", "type": "quantitative", "scale": {"domain": [-100, 10500], "nice": false, "zero": false},
                  "axis": {"orient": "left", "values": [1000, 3000, 5000, 7000, 9000], "labels": false, "title": null, "tickSize": 5, "domain": false}}
              }
            }
          ],
          "resolve": {"axis": {"x": "independent", "y": "independent"}}
        },
        {
          "layer": [
            {
              "data": {"values": [{}]},
              "mark": {"type": "rect", "fill": "white", "stroke": "#444", "strokeWidth": 1.2},
              "encoding": {
                "x": {"datum": 150, "type": "quantitative", "scale": {"domain": [-1154.6, 1284.6], "nice": false, "zero": false},
                  "axis": {"orient": "bottom", "offset": -47, "values": [200, 400, 600, 800, 1000, 1200], "format": "d", "title": "Z'(Ω·m)", "titleFontSize": 9, "titlePadding": 17, "titleX": 552, "labelFontSize": 8, "labelColor": "#333", "titleColor": "#333", "tickSize": 3, "tickWidth": 1, "tickColor": "#444", "labelPadding": 3, "domain": false}},
                "x2": {"datum": 1250},
                "y": {"datum": 0, "type": "quantitative", "scale": {"domain": [-143.6, 965.2], "nice": false, "zero": false},
                  "axis": {"orient": "left", "offset": -388.3, "values": [0, 100, 200, 300, 400, 500], "format": "d", "title": "Z''(Ω·m)", "titleFontSize": 9, "titlePadding": 12, "titleY": 236, "labelFontSize": 8, "labelColor": "#333", "titleColor": "#333", "tickSize": 3, "tickWidth": 1, "tickColor": "#444", "labelPadding": 3, "domain": false}},
                "y2": {"datum": 500}
              }
            },
            {
              "data": {"name": "fitIn"},
              "mark": {"type": "line", "color": "#7a7a7a", "strokeWidth": 2.6, "interpolate": "monotone"},
              "encoding": {
                "x": {"field": "x", "type": "quantitative", "scale": {"domain": [-1154.6, 1284.6], "nice": false, "zero": false},
                  "axis": {"orient": "bottom", "offset": -47, "values": [300, 500, 700, 900, 1100], "labels": false, "title": null, "tickSize": 2, "tickWidth": 1, "tickColor": "#444", "domain": false}},
                "y": {"field": "y", "type": "quantitative", "scale": {"domain": [-143.6, 965.2], "nice": false, "zero": false},
                  "axis": {"orient": "left", "offset": -388.3, "values": [50, 150, 250, 350, 450], "labels": false, "title": null, "tickSize": 2, "tickWidth": 1, "tickColor": "#444", "domain": false}},
                "detail": {"field": "s", "type": "nominal"}
              }
            },
            {
              "data": {"name": "fitIn"},
              "mark": {"type": "line", "color": "#e4e4e4", "strokeWidth": 0.8, "interpolate": "monotone"},
              "encoding": {
                "x": {"field": "x", "type": "quantitative", "scale": {"domain": [-1154.6, 1284.6], "nice": false, "zero": false}, "axis": null},
                "y": {"field": "y", "type": "quantitative", "scale": {"domain": [-143.6, 965.2], "nice": false, "zero": false}, "axis": null},
                "detail": {"field": "s", "type": "nominal"}
              }
            },
            {
              "data": {"name": "inset"},
              "mark": {"type": "square", "filled": true, "size": 7, "opacity": 1},
              "encoding": {
                "x": {"field": "x", "type": "quantitative", "scale": {"domain": [-1154.6, 1284.6], "nice": false, "zero": false}, "axis": null},
                "y": {"field": "y", "type": "quantitative", "scale": {"domain": [-143.6, 965.2], "nice": false, "zero": false}, "axis": null},
                "color": {"field": "s", "type": "nominal",
                  "scale": {"domain": ["BTZr(95-5)-NZF, 250 °C", "BTZr(95-5)-NCuSmZF, 250 °C"], "range": ["#00ee00", "#0000ff"]},
                  "legend": {"orient": "none", "legendX": 405, "legendY": 269, "title": null, "symbolType": "square", "symbolSize": 9, "labelFontSize": 9, "labelColor": "#222", "labelOffset": 12, "rowPadding": 4}}
              }
            }
          ],
          "resolve": {"axis": {"x": "independent", "y": "independent"}}
        }
      ],
      "resolve": {"scale": {"x": "independent", "y": "independent", "color": "independent"}, "axis": {"x": "independent", "y": "independent"}}
    }
  ]
}
